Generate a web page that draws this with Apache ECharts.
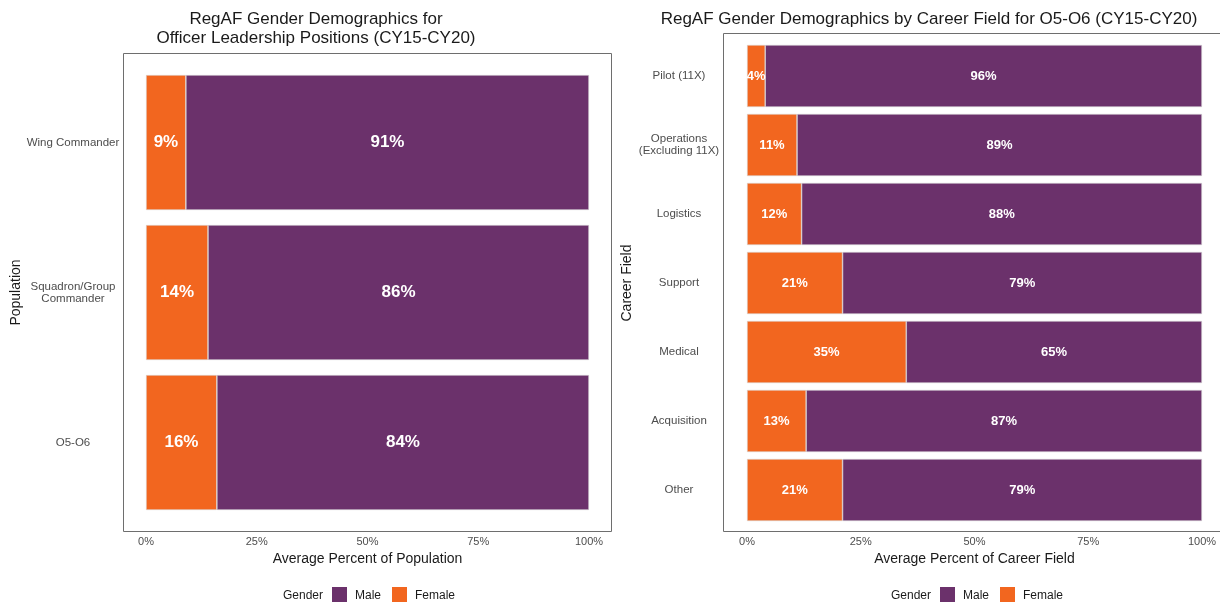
<!DOCTYPE html>
<html>
<head>
<meta charset="utf-8">
<script src="https://cdn.jsdelivr.net/npm/echarts@6/dist/echarts.min.js"></script>
<style>html,body{margin:0;padding:0;background:#fff}#c{width:1220px;height:602px}</style>
</head>
<body>
<div id="c"></div>
<script>
// Left panel data
var popCategories = ['Wing Commander', 'Squadron/Group\nCommander', 'O5-O6'];
var popFemale = [9, 14, 16];
var popMale = [91, 86, 84];
// Right panel data
var careerCategories = ['Pilot (11X)', 'Operations\n(Excluding 11X)', 'Logistics', 'Support', 'Medical', 'Acquisition', 'Other'];
var careerFemale = [4, 11, 12, 21, 35, 13, 21];
var careerMale = [96, 89, 88, 79, 65, 87, 79];
var xTicks = [0, 25, 50, 75, 100];

var PURPLE = '#6B316B', ORANGE = '#F2661F';
var FONT = '"Liberation Sans", Arial, sans-serif';

var chart = echarts.init(document.getElementById('c'), null, {renderer: 'canvas'});

function xAxisCfg(grid, name, labelMargin, nameGap) {
  return {
    type: 'value', gridIndex: grid, min: xTicks[0], max: xTicks[xTicks.length - 1], interval: xTicks[1] - xTicks[0],
    name: name, nameLocation: 'middle', nameGap: nameGap,
    nameTextStyle: {fontFamily: FONT, fontSize: 14, color: '#1a1a1a'},
    axisLine: {show: false}, axisTick: {show: false}, splitLine: {show: false},
    axisLabel: {fontFamily: FONT, fontSize: 11, color: '#4d4d4d', margin: labelMargin,
      formatter: function (v) { return v + '%'; }}
  };
}
function yAxisCfg(grid, cats, name, labelMargin, nameGap) {
  return {
    type: 'category', gridIndex: grid, data: cats, inverse: true,
    name: name, nameLocation: 'middle', nameGap: nameGap, nameRotate: 90,
    nameTextStyle: {fontFamily: FONT, fontSize: 14, color: '#1a1a1a'},
    axisLine: {show: false}, axisTick: {show: false}, splitLine: {show: false},
    axisLabel: {fontFamily: FONT, fontSize: 11.5, color: '#4d4d4d', margin: labelMargin,
      align: 'center', lineHeight: 12}
  };
}
function barSeries(name, data, color, xi, yi, stack, fs) {
  return {
    type: 'bar', name: name, data: data, stack: stack,
    xAxisIndex: xi, yAxisIndex: yi, barCategoryGap: '10%',
    itemStyle: {color: color, borderColor: '#d9d9d9', borderWidth: 0.6},
    label: {show: true, position: 'inside', color: '#fff', fontWeight: 'bold',
      fontFamily: FONT, fontSize: fs, formatter: function (p) { return p.value + '%'; }},
    emphasis: {disabled: true}, animation: false
  };
}

var legendBase = {
  data: ['Male', 'Female'], top: 587, padding: 0, itemWidth: 15, itemHeight: 17, itemGap: 11,
  icon: 'rect', selectedMode: false, itemStyle: {borderWidth: 0},
  textStyle: {fontFamily: FONT, fontSize: 12, color: '#1a1a1a', padding: [0, 0, 0, 3]}
};

var option = {
  animation: false,
  textStyle: {fontFamily: FONT},
  title: [
    {text: 'RegAF Gender Demographics for\nOfficer Leadership Positions (CY15-CY20)',
     left: 311, top: 5, textAlign: 'center',
     textStyle: {fontFamily: FONT, fontSize: 17, fontWeight: 'normal', color: '#1a1a1a', lineHeight: 19}},
    {text: 'RegAF Gender Demographics by Career Field for O5-O6 (CY15-CY20)',
     left: 924, top: 6, textAlign: 'center',
     textStyle: {fontFamily: FONT, fontSize: 17, fontWeight: 'normal', color: '#1a1a1a'}}
  ],
  grid: [
    {left: 146, top: 67.5, width: 443, height: 450},
    {left: 747, top: 41.5, width: 455, height: 483}
  ],
  xAxis: [
    xAxisCfg(0, 'Average Percent of Population', 19, 34),
    xAxisCfg(1, 'Average Percent of Career Field', 12, 27)
  ],
  yAxis: [
    yAxisCfg(0, popCategories, 'Population', 73, 120),
    yAxisCfg(1, careerCategories, 'Career Field', 68, 113)
  ],
  legend: [
    Object.assign({}, legendBase, {left: 332}),
    Object.assign({}, legendBase, {left: 940})
  ],
  graphic: [
    {type: 'rect', shape: {x: 123.5, y: 53.5, width: 488, height: 478}, silent: true,
     style: {fill: 'none', stroke: '#6e6e6e', lineWidth: 1}},
    {type: 'rect', shape: {x: 723.5, y: 33.5, width: 520, height: 498}, silent: true,
     style: {fill: 'none', stroke: '#6e6e6e', lineWidth: 1}},
    {type: 'text', left: 283, top: 590, silent: true,
     style: {text: 'Gender', font: '12px ' + FONT, fill: '#1a1a1a'}},
    {type: 'text', left: 891, top: 590, silent: true,
     style: {text: 'Gender', font: '12px ' + FONT, fill: '#1a1a1a'}}
  ],
  series: [
    barSeries('Female', popFemale, ORANGE, 0, 0, 'pop', 17),
    barSeries('Male', popMale, PURPLE, 0, 0, 'pop', 17),
    barSeries('Female', careerFemale, ORANGE, 1, 1, 'car', 13),
    barSeries('Male', careerMale, PURPLE, 1, 1, 'car', 13)
  ]
};
chart.setOption(option);
</script>
</body>
</html>
